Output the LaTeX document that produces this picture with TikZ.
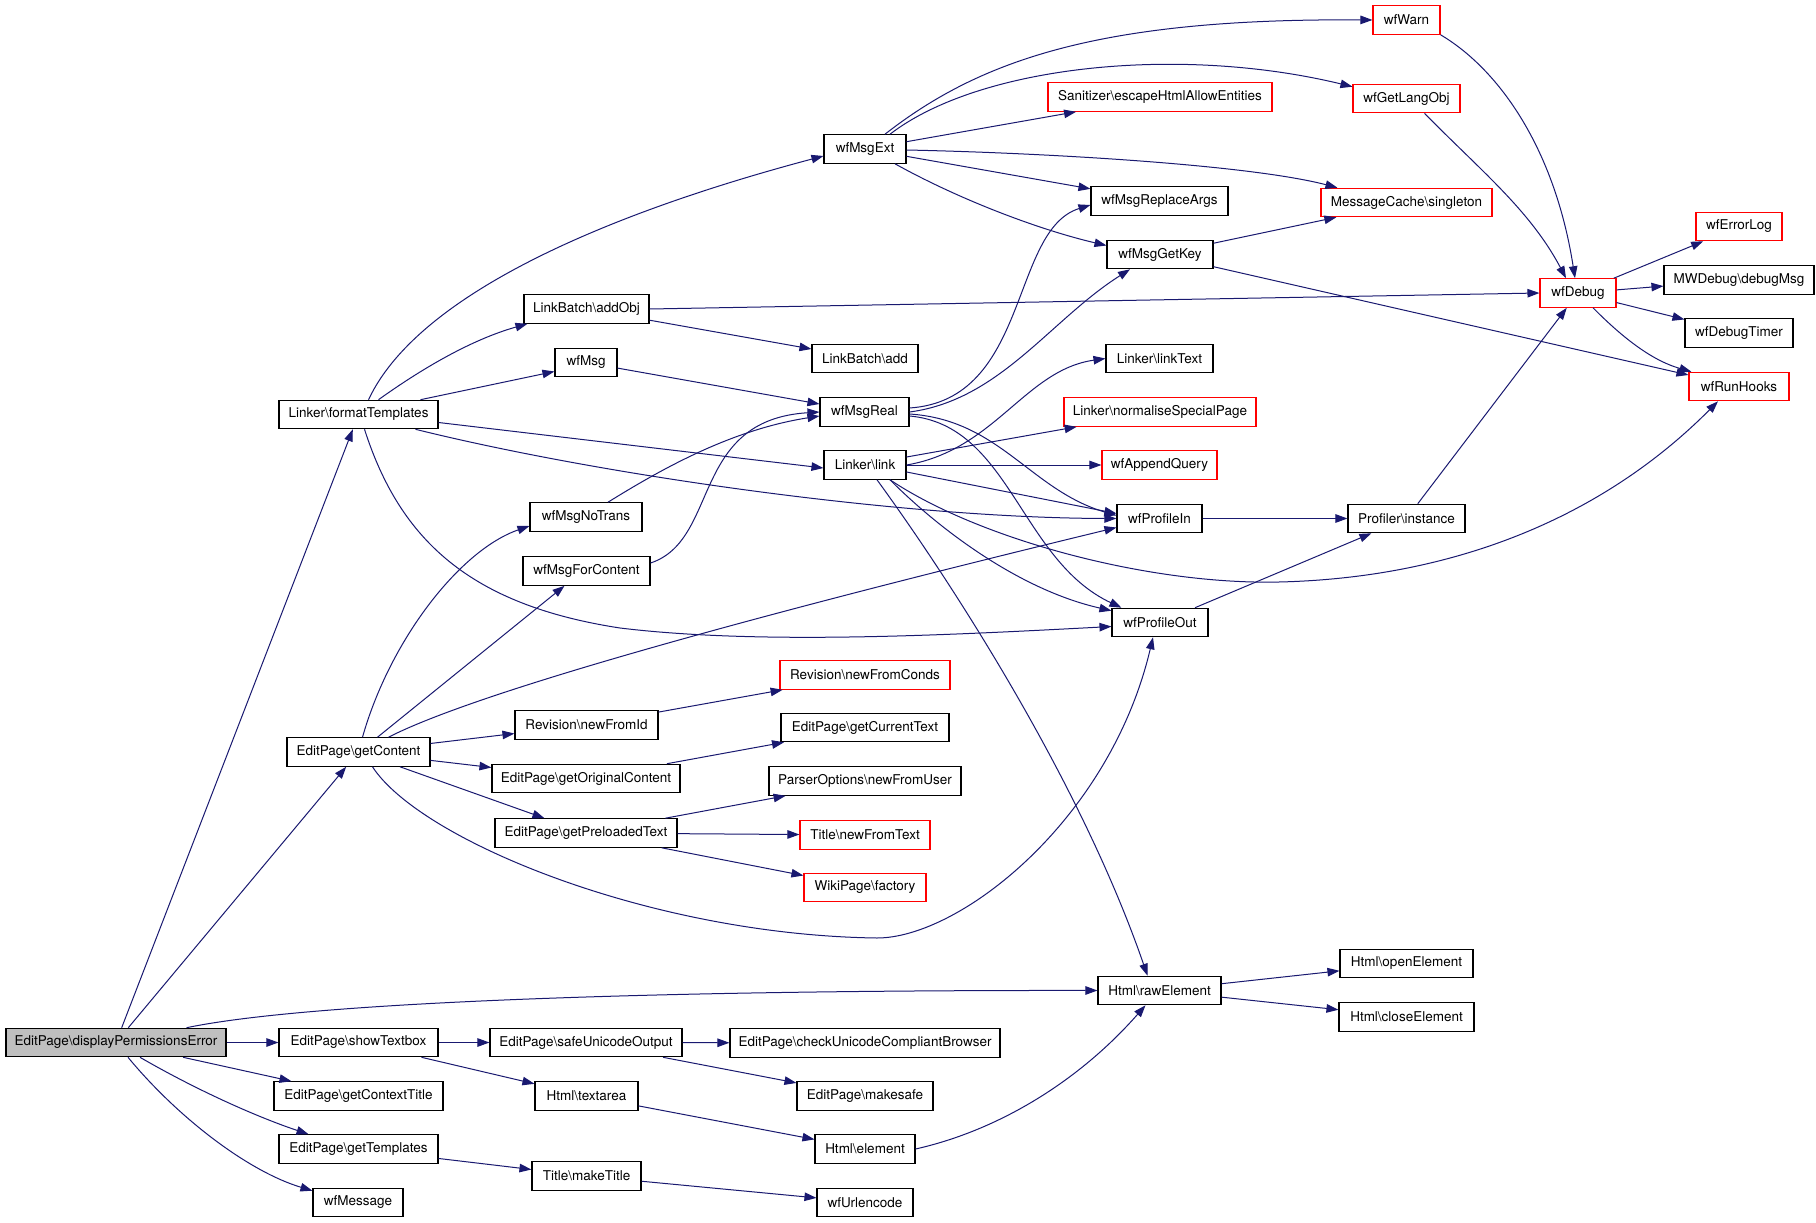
\documentclass[tikz,border=0pt]{standalone}
\usepackage{fontspec}
\setmainfont{TeX Gyre Heros}
\usetikzlibrary{arrows.meta}
\newcommand\BSx{\textbackslash{}}
\definecolor{edgec}{RGB}{25,25,112}
\definecolor{redb}{RGB}{255,0,0}
\definecolor{greyf}{RGB}{191,191,191}
\tikzset{
  box/.style={draw=black, line width=1.1pt, fill=white, rectangle, minimum height=28.5pt, inner xsep=2pt, inner ysep=0pt, font=\fontsize{13.5}{16}\selectfont, text=black},
  redbox/.style={box, draw=redb},
  edge/.style={draw=edgec, line width=1pt, -{Triangle[length=12pt,width=8.5pt]}},
}
\begin{document}
\begin{tikzpicture}[x=1pt,y=-1pt]
\fill[white] (0,0) rectangle (1816,1223);
\useasboundingbox (0,0) rectangle (1816,1223);
% column 0
\node[box, fill=greyf, minimum width=220pt] (dpe) at (116,1042.5) {EditPage\BSx displayPermissionsError};
% column 1
\node[box, minimum width=159pt] (ft) at (358.5,414.5) {Linker\BSx formatTemplates};
\node[box, minimum width=143pt] (gc) at (358.5,752) {EditPage\BSx getContent};
\node[box, minimum width=159pt] (stb) at (358.5,1042.5) {EditPage\BSx showTextbox};
\node[box, minimum width=169pt] (gct) at (358.5,1096) {EditPage\BSx getContextTitle};
\node[box, minimum width=159pt] (gt) at (358.5,1149) {EditPage\BSx getTemplates};
\node[box, minimum width=90pt] (wfm) at (358,1202.5) {wfMessage};
% column 2
\node[box, minimum width=125pt] (lbo) at (586.5,309) {LinkBatch\BSx addObj};
\node[box, minimum width=62pt] (wfmsg) at (586,362.5) {wfMsg};
\node[box, minimum width=112pt] (nt) at (586,517) {wfMsgNoTrans};
\node[box, minimum width=127pt] (fc) at (586.5,571) {wfMsgForContent};
\node[box, minimum width=143pt] (nfi) at (586.5,725) {Revision\BSx newFromId};
\node[box, minimum width=188pt] (goc) at (586,778.5) {EditPage\BSx getOriginalContent};
\node[box, minimum width=182pt] (gpt) at (586,833) {EditPage\BSx getPreloadedText};
\node[box, minimum width=192pt] (suo) at (586,1042.5) {EditPage\BSx safeUnicodeOutput};
\node[box, minimum width=103pt] (ta) at (586.5,1096) {Html\BSx textarea};
\node[box, minimum width=109pt] (mt) at (586.5,1176) {Title\BSx makeTitle};
% column 3
\node[box, minimum width=82pt] (ext) at (865,149) {wfMsgExt};
\node[box, minimum width=106pt] (lba) at (865,358.5) {LinkBatch\BSx add};
\node[box, minimum width=89pt] (real) at (864.5,412) {wfMsgReal};
\node[box, minimum width=82pt] (link) at (865,465) {Linker\BSx link};
\node[redbox, minimum width=170pt] (nfc) at (865,675) {Revision\BSx newFromConds};
\node[box, minimum width=168pt] (gcur) at (865,727.5) {EditPage\BSx getCurrentText};
\node[box, minimum width=192pt] (po) at (865,781) {ParserOptions\BSx newFromUser};
\node[redbox, minimum width=130pt] (nft) at (865,835) {Title\BSx newFromText};
\node[redbox, minimum width=122pt] (wpf) at (865,887.5) {WikiPage\BSx factory};
\node[box, minimum width=270pt] (cucb) at (865,1043) {EditPage\BSx checkUnicodeCompliantBrowser};
\node[box, minimum width=136pt] (ms) at (865,1096) {EditPage\BSx makesafe};
\node[box, minimum width=100pt] (he) at (865,1149) {Html\BSx element};
\node[box, minimum width=96pt] (url) at (865,1202.5) {wfUrlencode};
% column 4
\node[redbox, minimum width=224pt] (san) at (1160,97) {Sanitizer\BSx escapeHtmlAllowEntities};
\node[box, minimum width=137pt] (mra) at (1159.5,201) {wfMsgReplaceArgs};
\node[box, minimum width=106pt] (mgk) at (1160,254.5) {wfMsgGetKey};
\node[box, minimum width=107pt] (lt) at (1159.5,358.5) {Linker\BSx linkText};
\node[redbox, minimum width=192pt] (nsp) at (1160,412) {Linker\BSx normaliseSpecialPage};
\node[redbox, minimum width=115pt] (aq) at (1159.5,465) {wfAppendQuery};
\node[box, minimum width=85pt] (pin) at (1159.5,518.5) {wfProfileIn};
\node[box, minimum width=96pt] (pout) at (1160,622.5) {wfProfileOut};
\node[box, minimum width=123pt] (raw) at (1159.5,990.5) {Html\BSx rawElement};
% column 5
\node[redbox, minimum width=67pt] (warn) at (1406.5,20) {wfWarn};
\node[redbox, minimum width=107pt] (glo) at (1406.5,98.5) {wfGetLangObj};
\node[redbox, minimum width=171pt] (mc) at (1406.5,202.5) {MessageCache\BSx singleton};
\node[box, minimum width=117pt] (pi) at (1406.5,518.5) {Profiler\BSx instance};
\node[box, minimum width=133pt] (oe) at (1406.5,963.5) {Html\BSx openElement};
\node[box, minimum width=135pt] (ce) at (1406.5,1017) {Html\BSx closeElement};
% column 6/7
\node[redbox, minimum width=76pt] (dbg) at (1578,293) {wfDebug};
\node[redbox, minimum width=86pt] (el) at (1739,226.5) {wfErrorLog};
\node[box, minimum width=150pt] (mwd) at (1739,280) {MWDebug\BSx debugMsg};
\node[box, minimum width=108pt] (dt) at (1739,333) {wfDebugTimer};
\node[redbox, minimum width=100pt] (rh) at (1739,386.5) {wfRunHooks};

% edges from displayPermissionsError
\draw[edge] (dpe) -- (ft);
\draw[edge] (dpe) -- (gc);
\draw[edge] ([xshift=-40pt]dpe.north east) .. controls (320,1000) and (700,990) .. (raw.west);
\draw[edge] (dpe) -- (stb);
\draw[edge] (dpe) -- (gct);
\draw[edge] ([xshift=24pt]dpe.south) .. controls (200,1092) and (260,1118) .. ([xshift=-50pt]gt.north);
\draw[edge] ([xshift=12pt]dpe.south) .. controls (180,1120) and (250,1172) .. ([yshift=-3pt]wfm.north west);
% formatTemplates
\draw[edge] ([xshift=10pt]ft.north) .. controls (420,290) and (620,210) .. ([yshift=-7pt]ext.west);
\draw[edge] ([xshift=20pt]ft.north) .. controls (420,370) and (470,340) .. ([xshift=4pt]lbo.south west);
\draw[edge] ([xshift=62pt]ft.north) -- ([yshift=-9pt]wfmsg.west);
\draw[edge] ([yshift=-8pt]ft.east) -- ([yshift=-3pt]link.west);
\draw[edge] ([xshift=57pt]ft.south) .. controls (600,475) and (900,518) .. (pin.west);
\draw[edge] ([xshift=6pt]ft.south) .. controls (400,540) and (470,605) .. (620,628) .. controls (760,645) and (950,635) .. ([yshift=-4pt]pout.west);
% getContent
\draw[edge] ([xshift=4pt]gc.north) .. controls (390,640) and (460,550) .. ([yshift=-9pt]nt.west);
\draw[edge] ([xshift=19pt]gc.north) -- ([xshift=-22pt]fc.south);
\draw[edge] ([xshift=30pt]gc.north) .. controls (500,680) and (900,580) .. ([yshift=-9pt]pin.west);
\draw[edge] (gc) -- (nfi);
\draw[edge] (gc) -- (goc);
\draw[edge] (gc) -- (gpt);
\draw[edge] ([xshift=14pt]gc.south) .. controls (420,840) and (650,935) .. (877,938) .. controls (960,938) and (1110,820) .. ([xshift=-7pt]pout.south);
\draw[edge] (nfi) -- (nfc);
\draw[edge] (goc) -- (gcur);
\draw[edge] (gpt) -- (po);
\draw[edge] (gpt) -- (nft);
\draw[edge] (gpt) -- (wpf);
% Linker\link
\draw[edge] (link.east) .. controls (995,450) and (1025,370) .. (lt.west);
\draw[edge] ([yshift=8pt]link.east) -- (nsp);
\draw[edge] (link) -- (aq);
\draw[edge] ([yshift=-7pt]link.east) -- ([yshift=5pt]pin.west);
\draw[edge] ([xshift=25pt]link.south) .. controls (940,530) and (1020,590) .. ([yshift=-3pt]pout.north west);
\draw[edge] ([xshift=25pt]link.south) .. controls (980,540) and (1150,585) .. (1279,582) .. controls (1450,578) and (1600,520) .. ([xshift=-21pt]rh.south);
\draw[edge] ([xshift=12pt]link.south) .. controls (950,580) and (1080,780) .. ([xshift=-12pt]raw.north);
% wfMsgExt
\draw[edge] ([xshift=20pt]ext.north) .. controls (980,60) and (1100,18) .. (warn.west);
\draw[edge] ([xshift=25pt]ext.north) .. controls (980,65) and (1180,45) .. ([yshift=-3pt]glo.north west);
\draw[edge] (ext) -- (san);
\draw[edge] ([yshift=-1pt]ext.east) .. controls (1050,153) and (1250,165) .. ([xshift=17pt]mc.north west);
\draw[edge] (ext) -- (mra);
\draw[edge] ([xshift=30pt]ext.south) .. controls (960,200) and (1040,230) .. ([yshift=9pt]mgk.west);
\draw[edge] (mgk) -- (mc);
\draw[edge] (mgk) -- (rh);
\draw[edge] (warn.south east) .. controls (1500,70) and (1555,150) .. ([xshift=-3pt]dbg.north);
\draw[edge] ([xshift=18pt]glo.south) .. controls (1480,170) and (1530,210) .. ([xshift=-12pt]dbg.north);
\draw[edge] (lbo.east) -- (dbg.west);
\draw[edge] (lbo) -- (lba);
\draw[edge] (wfmsg) -- (real);
% wfMsgReal
\draw[edge] ([yshift=4pt]real.east) .. controls (1030,400) and (1010,230) .. ([yshift=-4pt]mra.west);
\draw[edge] (real.east) .. controls (1000,400) and (1050,320) .. ([xshift=-30pt]mgk.south);
\draw[edge] ([yshift=-2pt]real.east) .. controls (1000,420) and (1030,490) .. ([yshift=3pt]pin.west);
\draw[edge] ([yshift=-4pt]real.east) .. controls (1010,425) and (1020,560) .. ([xshift=10pt]pout.north west);
\draw[edge] ([xshift=22pt]nt.north) .. controls (660,470) and (730,430) .. ([yshift=-4pt]real.west);
\draw[edge] ([yshift=8pt]fc.east) .. controls (720,540) and (690,420) .. (real.west);
% profiler & debug
\draw[edge] (pin) -- (pi);
\draw[edge] (pout) -- (pi);
\draw[edge] (pi) -- (dbg);
\draw[edge] (dbg) -- (el);
\draw[edge] (dbg) -- (mwd);
\draw[edge] (dbg) -- (dt);
\draw[edge] ([xshift=15pt]dbg.south) .. controls (1620,335) and (1650,360) .. ([xshift=3pt]rh.north west);
% bottom part
\draw[edge] (stb) -- (suo);
\draw[edge] (stb) -- (ta);
\draw[edge] (suo) -- (cucb);
\draw[edge] (suo) -- (ms);
\draw[edge] (ta) -- (he);
\draw[edge] (he.east) .. controls (1000,1130) and (1080,1080) .. ([xshift=-14pt]raw.south);
\draw[edge] (gt) -- (mt);
\draw[edge] (mt) -- (url);
\draw[edge] (raw) -- (oe);
\draw[edge] (raw) -- (ce);
\end{tikzpicture}
\end{document}
